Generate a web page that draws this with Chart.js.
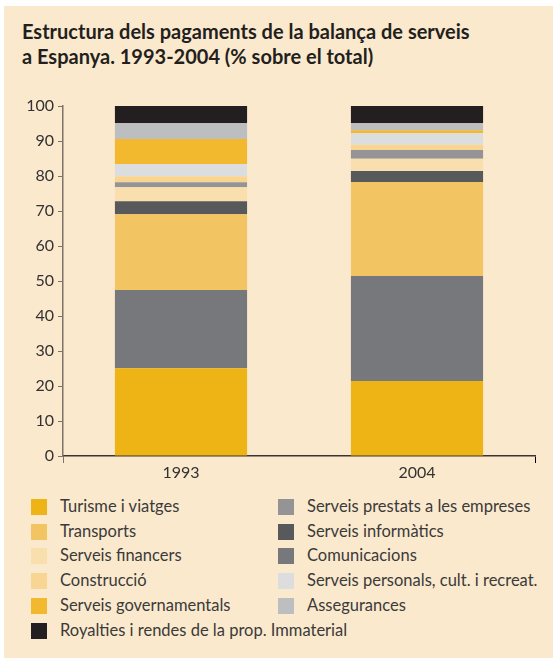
<!DOCTYPE html>
<html>
<head>
<meta charset="utf-8">
<script src="https://cdn.jsdelivr.net/npm/chart.js@4.4.0/dist/chart.umd.min.js"></script>
<style>
  html, body { margin: 0; padding: 0; background: #fff; }
  #panel { position: absolute; left: 4px; top: 6px; width: 549px; height: 652px; background: #fbe9cd; }
  #title { position: absolute; left: 18px; top: 13px; font-family: Lato, sans-serif; font-weight: bold;
           font-size: 20px; line-height: 25px; color: #231f20; }
  #wrap { position: absolute; left: -4px; top: -6px; width: 556px; height: 490px; }
  #legend { position: absolute; left: 0; top: 0; font-family: Lato, sans-serif; font-size: 16.5px; color: #3a3a3a; }
  .item { position: absolute; white-space: nowrap; }
  .box { position: absolute; width: 16px; height: 16px; }
</style>
</head>
<body>
<div id="panel">
  <div id="title">Estructura dels pagaments de la balança de serveis<br>a Espanya. 1993-2004 (% sobre el total)</div>
  <div id="wrap"><canvas id="chart"></canvas></div>
  <div id="legend"></div>
</div>
<script>
// ── Data ─────────────────────────────────
const years = ['1993', '2004'];
const yTicks = [0, 10, 20, 30, 40, 50, 60, 70, 80, 90, 100];

// stacked bottom to top
const series = [
    'Turisme i viatges', 'Comunicacions', 'Transports', 'Serveis informàtics',
    'Serveis financers', 'Serveis prestats a les empreses', 'Construcció',
    'Serveis personals, cult. i recreat.', 'Serveis governamentals', 'Assegurances',
    'Royalties i rendes de la prop. Immaterial'
];
const turisme = [25.1, 21.4];
const comunicacions = [22.3, 30.0];
const transports = [21.7, 26.9];
const informatics = [3.7, 3.1];
const financers = [4.0, 3.5];
const prestats = [1.4, 2.5];
const construccio = [1.7, 1.5];
const personals = [3.5, 3.4];
const governamentals = [7.2, 0.8];
const assegurances = [4.5, 2.0];
const royalties = [4.9, 4.9];

const values = [turisme, comunicacions, transports, informatics, financers, prestats,
                construccio, personals, governamentals, assegurances, royalties];
const colors = ['#eeb315', '#77787b', '#f2c462', '#58595b', '#fadfae', '#949497',
                '#f8d592', '#dcddde', '#f2b82e', '#bcbec0', '#231f20'];

// legend layout order (column 1, column 2)
const legendCol1 = ['Turisme i viatges', 'Transports', 'Serveis financers', 'Construcció',
                    'Serveis governamentals', 'Royalties i rendes de la prop. Immaterial'];
const legendCol2 = ['Serveis prestats a les empreses', 'Serveis informàtics', 'Comunicacions',
                    'Serveis personals, cult. i recreat.', 'Assegurances'];

// ── Chart ─────────────────────────────────
const textColor = '#333132';
const font = { family: 'Lato, sans-serif', size: 16 };

new Chart(document.getElementById('chart'), {
    type: 'bar',
    data: {
        labels: years,
        datasets: series.map((name, i) => ({
            label: name, data: values[i], backgroundColor: colors[i], borderWidth: 0,
            barPercentage: 0.56, categoryPercentage: 1
        }))
    },
    options: {
        responsive: true, maintainAspectRatio: false, animation: false,
        layout: { padding: { top: 106, right: 21, left: 0, bottom: 0 } },
        plugins: { legend: { display: false }, tooltip: { enabled: false } },
        scales: {
            x: {
                stacked: true,
                grid: { display: true, drawOnChartArea: false, drawTicks: true, tickLength: 7, color: ['#7d7369', 'rgba(0,0,0,0)', 'rgba(0,0,0,0)'] },
                border: { color: '#3a3532', width: 1.5 },
                ticks: { color: textColor, font: font, padding: 0 },
                afterFit: s => { s.height = 34; }
            },
            y: {
                stacked: true, min: 0, max: 100,
                afterBuildTicks: s => { s.ticks = yTicks.map(v => ({ value: v })); },
                grid: { drawOnChartArea: false, drawTicks: true, tickLength: 5, color: '#7d7369' },
                border: { color: '#7d7369', width: 1.5 },
                ticks: { color: textColor, font: font, padding: 4 },
                afterFit: s => { s.width = 63; }
            }
        }
    }
});

// ── Legend ─────────────────────────────────
const legend = document.getElementById('legend');
function addItem(name, col, row) {
    const i = series.indexOf(name);
    const x = col === 0 ? 27 : 274;
    const y = 493 + row * 24.7;
    const box = document.createElement('div');
    box.className = 'box';
    box.style.left = x + 'px'; box.style.top = y + 'px';
    box.style.background = colors[i];
    const t = document.createElement('div');
    t.className = 'item';
    t.style.left = (x + 29) + 'px'; t.style.top = (y - 3) + 'px';
    t.textContent = name;
    legend.appendChild(box); legend.appendChild(t);
}
legendCol1.forEach((n, r) => addItem(n, 0, r));
legendCol2.forEach((n, r) => addItem(n, 1, r));
</script>
</body>
</html>
